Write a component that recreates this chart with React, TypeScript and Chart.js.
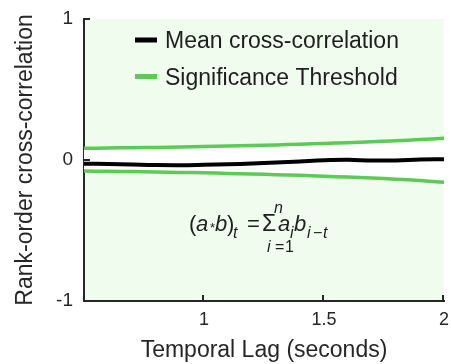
import React, { useEffect, useRef } from 'react';
import { Chart, registerables } from 'chart.js';

Chart.register(...registerables);

// ---- Data ----
const lagSeconds = [0.5, 0.6, 0.7, 0.8, 0.9, 1.0, 1.1, 1.2, 1.3, 1.4, 1.5, 1.6, 1.7, 1.8, 1.9, 2.0];
const meanCrossCorrelation = [-0.026, -0.028, -0.032, -0.036, -0.037, -0.034, -0.03, -0.025, -0.018, -0.01, -0.002, 0.001, -0.004, -0.003, 0.003, 0.005];
const thresholdUpper = [0.083, 0.085, 0.087, 0.089, 0.092, 0.095, 0.099, 0.103, 0.107, 0.112, 0.117, 0.123, 0.13, 0.137, 0.145, 0.154];
const thresholdLower = [-0.078, -0.08, -0.082, -0.085, -0.088, -0.091, -0.095, -0.099, -0.104, -0.109, -0.115, -0.121, -0.128, -0.136, -0.146, -0.158];
const xTickValues = [1, 1.5, 2];
const yTickValues = [-1, 0, 1];
const legendLabels = ['Mean cross-correlation', 'Significance Threshold'];
const xTitle = 'Temporal Lag (seconds)';
const yTitle = 'Rank-order cross-correlation';

// ---- Styles ----
const FONT = '"Liberation Sans", Arial, Helvetica, sans-serif';
const AXIS = '#262626';
const TEXT = '#1e1e1e';
const GREEN = '#5ccb55';
const BLACK = '#000000';
const PLOT_BG = '#f0fcee';

function drawFormula(ctx: CanvasRenderingContext2D) {
  const piece = (t: string, x: number, y: number, size: number, italic: boolean) => {
    ctx.font = `${italic ? 'italic ' : ''}${size}px ${FONT}`;
    ctx.fillText(t, x, y);
  };
  ctx.fillStyle = TEXT;
  ctx.textBaseline = 'alphabetic';
  ctx.textAlign = 'left';
  const base = 231;
  const sub = 238;
  piece('(', 189, base, 22, false);
  piece('a', 196, base, 22, true);
  piece('*', 210, base + 1, 13, false);
  piece('b', 215, base, 22, true);
  piece(')', 227, base, 22, false);
  piece('t', 233, sub, 16, true);
  piece('=', 247, base, 22, false);
  piece('Σ', 262, base, 23, false);
  piece('n', 274, 213, 16, true);
  piece('i', 267, 252, 16, true);
  piece('=', 275, 252, 16, false);
  piece('1', 285, 252, 16, false);
  piece('a', 278, base, 22, true);
  piece('i', 290, sub, 16, true);
  piece('b', 294, base, 22, true);
  piece('i', 307, sub, 16, true);
  piece('\u2212', 313, sub, 16, false);
  piece('t', 323, sub, 16, true);
}

const decorPlugin = {
  id: 'decor',
  beforeDraw(chart: any) {
    const { ctx, chartArea: a } = chart;
    ctx.save();
    ctx.fillStyle = '#ffffff';
    ctx.fillRect(0, 0, chart.width, chart.height);
    ctx.fillStyle = PLOT_BG;
    ctx.fillRect(a.left, a.top, a.right - a.left, a.bottom - a.top);
    ctx.restore();
  },
  afterDraw(chart: any) {
    const { ctx, chartArea: a, scales } = chart;
    ctx.save();
    // inward tick marks
    ctx.strokeStyle = AXIS;
    ctx.lineWidth = 2;
    xTickValues.forEach((v) => {
      const px = Math.round(scales.x.getPixelForValue(v)) - 1;
      ctx.beginPath();
      ctx.moveTo(px, a.bottom);
      ctx.lineTo(px, a.bottom - 6);
      ctx.stroke();
    });
    yTickValues.forEach((v) => {
      const py = Math.round(scales.y.getPixelForValue(v));
      ctx.beginPath();
      ctx.moveTo(a.left, py);
      ctx.lineTo(a.left + 6, py);
      ctx.stroke();
    });
    // legend
    const colors = [BLACK, GREEN];
    const rows = [40, 76.5];
    const baselines = [48, 85];
    ctx.font = `23px ${FONT}`;
    ctx.textBaseline = 'alphabetic';
    ctx.textAlign = 'left';
    legendLabels.forEach((label, i) => {
      ctx.fillStyle = colors[i];
      ctx.fillRect(135, rows[i] - 2.5, 22, 5);
      ctx.fillStyle = TEXT;
      ctx.fillText(label, 165, baselines[i]);
    });
    drawFormula(ctx);
    ctx.restore();
  },
};

export default function App() {
  const canvasRef = useRef<HTMLCanvasElement | null>(null);

  useEffect(() => {
    if (!canvasRef.current) return;
    const toPoints = (ys: number[]) => lagSeconds.map((x, i) => ({ x, y: ys[i] }));
    const chart = new Chart(canvasRef.current, {
      type: 'line',
      data: {
        datasets: [
          {
            label: legendLabels[0],
            data: toPoints(meanCrossCorrelation),
            borderColor: BLACK,
            borderWidth: 4,
            pointRadius: 0,
            tension: 0.4,
            fill: false,
          },
          {
            label: legendLabels[1],
            data: toPoints(thresholdUpper),
            borderColor: GREEN,
            borderWidth: 3.5,
            pointRadius: 0,
            tension: 0.4,
            fill: false,
          },
          {
            label: legendLabels[1] + ' (lower)',
            data: toPoints(thresholdLower),
            borderColor: GREEN,
            borderWidth: 3.5,
            pointRadius: 0,
            tension: 0.4,
            fill: '-1',
            backgroundColor: '#ffffff',
          },
        ],
      },
      options: {
        responsive: false,
        animation: false,
        devicePixelRatio: 1,
        layout: { padding: { top: 19, right: 7, left: 0, bottom: 0 } },
        plugins: {
          legend: { display: false },
          tooltip: { enabled: false },
        },
        scales: {
          x: {
            type: 'linear',
            min: 0.5,
            max: 2,
            afterBuildTicks: (s: any) => {
              s.ticks = xTickValues.map((v) => ({ value: v }));
            },
            afterFit: (s: any) => {
              s.height = 63;
              s.paddingLeft = 0;
              s.paddingRight = 0;
            },
            grid: { display: false, drawTicks: false },
            border: { display: true, color: AXIS, width: 2 },
            ticks: {
              color: AXIS,
              font: { family: FONT, size: 18 },
              padding: 8,
              maxRotation: 0,
              callback: (v: any) => String(v),
            },
            title: {
              display: true,
              text: xTitle,
              color: AXIS,
              font: { family: FONT, size: 23 },
              padding: { top: 4, bottom: 0 },
            },
          },
          y: {
            type: 'linear',
            min: -1,
            max: 1,
            afterBuildTicks: (s: any) => {
              s.ticks = yTickValues.map((v) => ({ value: v }));
            },
            afterFit: (s: any) => {
              s.width = 84;
              s.paddingTop = 0;
              s.paddingBottom = 0;
            },
            grid: { display: false, drawTicks: false },
            border: { display: true, color: AXIS, width: 2 },
            ticks: {
              color: AXIS,
              font: { family: FONT, size: 19 },
              padding: 11,
              callback: (v: any) => String(v),
            },
            title: {
              display: true,
              text: yTitle,
              color: AXIS,
              font: { family: FONT, size: 23 },
              padding: { top: 12, bottom: 0 },
            },
          },
        },
      },
      plugins: [decorPlugin],
    });
    return () => chart.destroy();
  }, []);

  return (
    <div style={{ position: 'absolute', left: 0, top: 0, width: 451, height: 364, background: '#ffffff' }}>
      <canvas ref={canvasRef} width={451} height={364} style={{ display: 'block', width: 451, height: 364 }} />
    </div>
  );
}
